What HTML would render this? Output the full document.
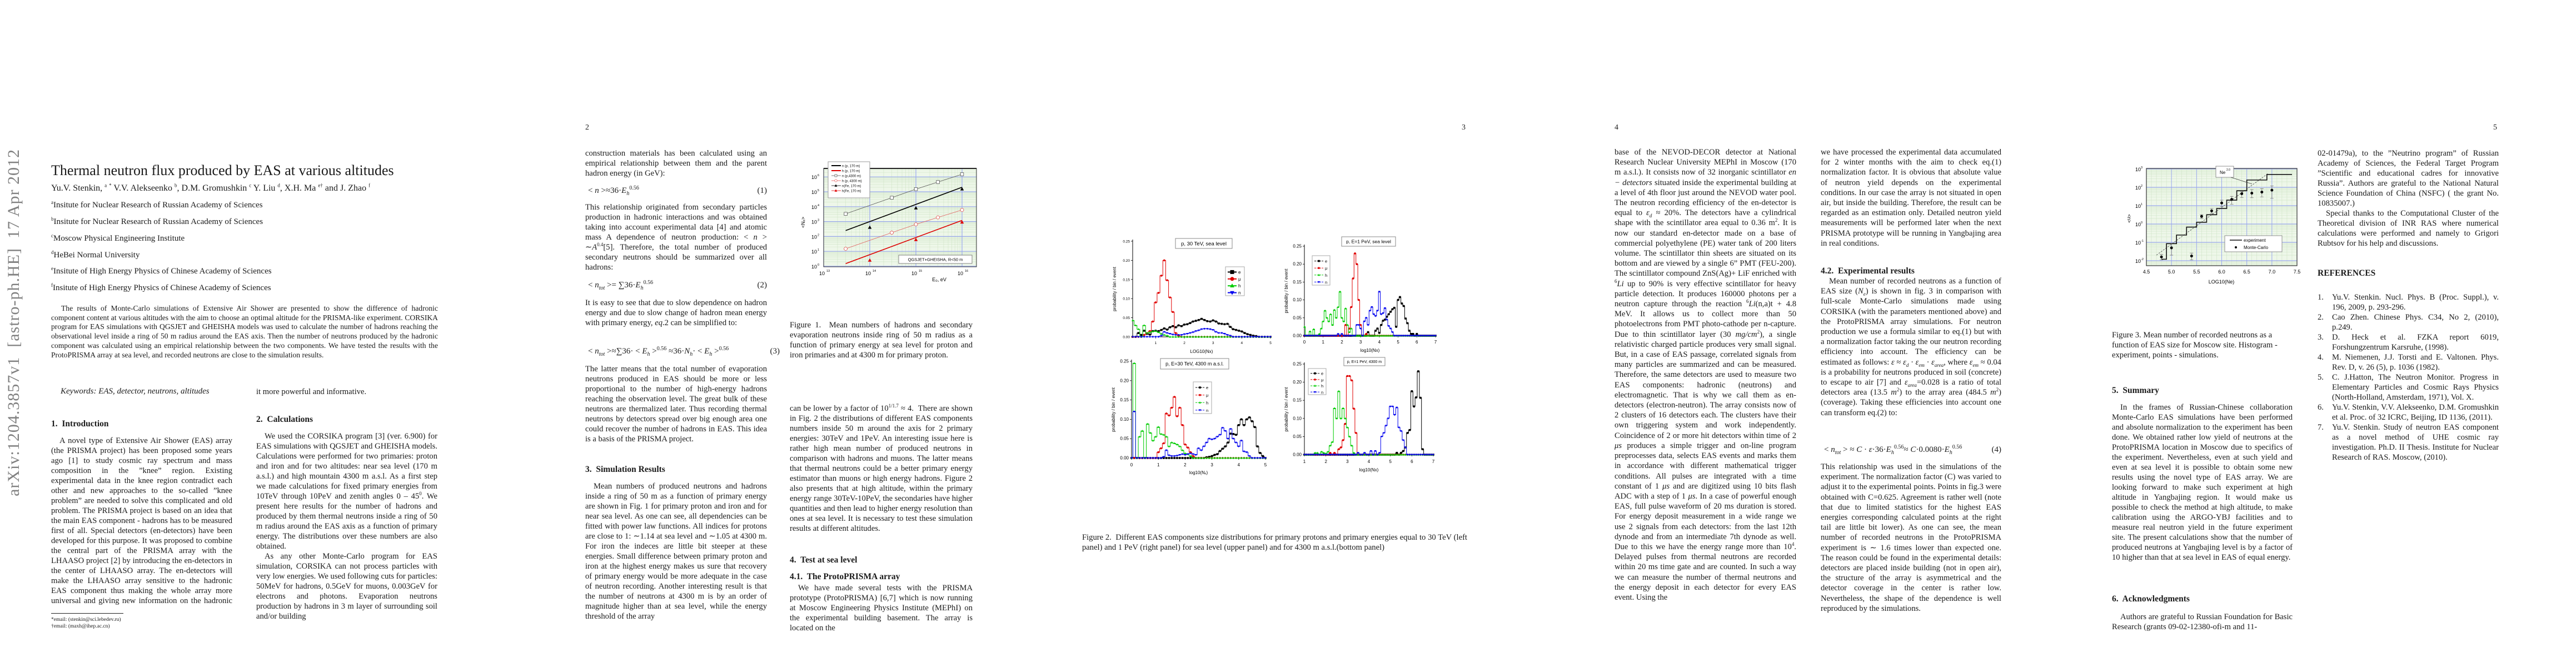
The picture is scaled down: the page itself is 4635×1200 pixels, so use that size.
<!DOCTYPE html>
<html lang="en">
<head>
<meta charset="utf-8">
<title>Thermal neutron flux produced by EAS at various altitudes</title>
<style>
html,body{margin:0;padding:0;background:#fff;}
body{width:4635px;height:1200px;position:relative;overflow:hidden;font-family:"Liberation Serif",serif;color:#1a1a1a;}
sup,sub{line-height:0;}
.a{position:absolute;}
.txt{font-size:14.6px;line-height:18px;text-align:justify;hyphens:auto;-webkit-hyphens:auto;}
.col{overflow:hidden;}
.p{margin:0;text-indent:15px;}
.ni{text-indent:0;}
.h{font-weight:bold;font-size:15.5px;line-height:18px;white-space:nowrap;}
.pn{font-size:14px;}
.eq{font-size:15px;line-height:18px;white-space:nowrap;}
.eqn{position:absolute;right:0;top:0;}
.ref{position:relative;padding-left:26px;}
.ref span.n{position:absolute;left:0;top:0;}
svg text{font-family:"Liberation Sans",sans-serif;}
</style>
</head>
<body>

<div class="a" style="left:8px;top:268px;writing-mode:vertical-rl;transform:rotate(180deg);font-size:30px;color:#808080;white-space:nowrap;letter-spacing:1px;">arXiv:1204.3857v1&nbsp;&nbsp;[astro-ph.HE]&nbsp;&nbsp;17 Apr 2012</div>

<!-- ================= PAGE 1 ================= -->
<div class="a" style="left:92px;top:292px;font-size:26px;white-space:nowrap;">Thermal neutron flux produced by EAS at various altitudes</div>
<div class="a" style="left:92px;top:330px;font-size:16px;white-space:nowrap;">Yu.V. Stenkin, <sup style="font-size:9px">a</sup> <sup style="font-size:9px">*</sup> V.V. Alekseenko <sup style="font-size:9px">b</sup>, D.M. Gromushkin <sup style="font-size:9px">c</sup> Y. Liu <sup style="font-size:9px">d</sup>, X.H. Ma <sup style="font-size:9px">e†</sup> and J. Zhao <sup style="font-size:9px">f</sup></div>
<div class="a" style="left:92px;top:361px;font-size:15px;white-space:nowrap;"><sup style="font-size:9px">a</sup>Insitute for Nuclear Research of Russian Academy of Sciences</div>
<div class="a" style="left:92px;top:391px;font-size:15px;white-space:nowrap;"><sup style="font-size:9px">b</sup>Insitute for Nuclear Research of Russian Academy of Sciences</div>
<div class="a" style="left:92px;top:421px;font-size:15px;white-space:nowrap;"><sup style="font-size:9px">c</sup>Moscow Physical Engineering Institute</div>
<div class="a" style="left:92px;top:451px;font-size:15px;white-space:nowrap;"><sup style="font-size:9px">d</sup>HeBei Normal University</div>
<div class="a" style="left:92px;top:480px;font-size:15px;white-space:nowrap;"><sup style="font-size:9px">e</sup>Insitute of High Energy Physics of Chinese Academy of Sciences</div>
<div class="a" style="left:92px;top:510px;font-size:15px;white-space:nowrap;"><sup style="font-size:9px">f</sup>Insitute of High Energy Physics of Chinese Academy of Sciences</div>

<div class="a" style="left:92px;top:547px;width:696px;font-size:13.6px;line-height:16.7px;text-align:justify;text-indent:18px;">The results of Monte-Carlo simulations of Extensive Air Shower are presented to show the difference of hadronic component content at various altitudes with the aim to choose an optimal altitude for the PRISMA-like experiment. CORSIKA program for EAS simulations with QGSJET and GHEISHA models was used to calculate the number of hadrons reaching the observational level inside a ring of 50 m radius around the EAS axis. Then the number of neutrons produced by the hadronic component was calculated using an empirical relationship between the two components. We have tested the results with the ProtoPRISMA array at sea level, and recorded neutrons are close to the simulation results.</div>

<div class="a" style="left:109px;top:696px;font-size:15px;font-style:italic;white-space:nowrap;">Keywords: EAS, detector, neutrons, altitudes</div>

<div class="a h" style="left:92px;top:754px;">1.&nbsp; Introduction</div>
<div class="a txt col" style="left:92px;top:784px;width:326px;height:306px;">
<p class="p">A novel type of Extensive Air Shower (EAS) array (the PRISMA project) has been proposed some years ago [1] to study cosmic ray spectrum and mass composition in the ”knee” region. Existing experimental data in the knee region contradict each other and new approaches to the so-called ”knee problem” are needed to solve this complicated and old problem. The PRISMA project is based on an idea that the main EAS component - hadrons has to be measured first of all. Special detectors (en-detectors) have been developed for this purpose. It was proposed to combine the central part of the PRISMA array with the LHAASO project [2] by introducing the en-detectors in the center of LHAASO array. The en-detectors will make the LHAASO array sensitive to the hadronic EAS component thus making the whole array more universal and giving new information on the hadronic component of the EAS,</p>
</div>
<div class="a" style="left:92px;top:1103px;width:130px;height:1px;background:#222;"></div>
<div class="a" style="left:92px;top:1109px;font-size:9.5px;line-height:12px;white-space:nowrap;">*email: (stenkin@sci.lebedev.ru)</div>
<div class="a" style="left:92px;top:1121px;font-size:9.5px;line-height:12px;white-space:nowrap;">†email: (maxh@ihep.ac.cn)</div>

<div class="a txt" style="left:461px;top:696px;width:326px;white-space:nowrap;">it more powerful and informative.</div>
<div class="a h" style="left:461px;top:746px;">2.&nbsp; Calculations</div>
<div class="a txt col" style="left:461px;top:776px;width:326px;height:360px;">
<p class="p">We used the CORSIKA program [3] (ver. 6.900) for EAS simulations with QGSJET and GHEISHA models. Calculations were performed for two primaries: proton and iron and for two altitudes: near sea level (170 m a.s.l.) and high mountain 4300 m a.s.l. As a first step we made calculations for fixed primary energies from 10TeV through 10PeV and zenith angles 0 – 45<sup style="font-size:9px">0</sup>. We present here results for the number of hadrons and produced by them thermal neutrons inside a ring of 50 m radius around the EAS axis as a function of primary energy. The distributions over these numbers are also obtained.</p>
<p class="p">As any other Monte-Carlo program for EAS simulation, CORSIKA can not process particles with very low energies. We used following cuts for particles: 50MeV for hadrons, 0.5GeV for muons, 0.003GeV for electrons and photons. Evaporation neutrons production by hadrons in 3 m layer of surrounding soil and/or building</p>
</div>

<!-- ================= PAGE 2 ================= -->
<div class="a pn" style="left:1053px;top:222px;">2</div>
<div class="a txt" style="left:1053px;top:267px;width:327px;">
<p class="p ni">construction materials has been calculated using an empirical relationship between them and the parent hadron energy (in GeV):</p></div>
<div class="a eq" style="left:1058px;top:334px;width:322px;">&lt; <i>n</i> &gt;≈36·<i>E</i><sub style="font-size:10px"><i>h</i></sub><sup style="font-size:10px">0.56</sup><span class="eqn">(1)</span></div>
<div class="a txt" style="left:1053px;top:364px;width:327px;">
<p class="p ni">This relationship originated from secondary particles production in hadronic interactions and was obtained taking into account experimental data [4] and atomic mass A dependence of neutron production: &lt; <i>n</i> &gt; ∼<i>A</i><sup style="font-size:9px">0.4</sup>[5]. Therefore, the total number of produced secondary neutrons should be summarized over all hadrons:</p></div>
<div class="a eq" style="left:1058px;top:504px;width:322px;">&lt; <i>n<sub style="font-size:10px">tot</sub></i> &gt;= ∑36·<i>E</i><sub style="font-size:10px"><i>h</i></sub><sup style="font-size:10px">0.56</sup><span class="eqn">(2)</span></div>
<div class="a txt" style="left:1053px;top:536px;width:327px;">
<p class="p ni">It is easy to see that due to slow dependence on hadron energy and due to slow change of hadron mean energy with primary energy, <i>eq</i>.2 can be simplified to:</p></div>
<div class="a eq" style="left:1058px;top:623px;width:345px;">&lt; <i>n<sub style="font-size:10px">tot</sub></i> &gt;≈∑36· &lt; <i>E<sub style="font-size:10px">h</sub></i> &gt;<sup style="font-size:10px">0.56</sup> ≈36·<i>N<sub style="font-size:10px">h</sub></i>· &lt; <i>E<sub style="font-size:10px">h</sub></i> &gt;<sup style="font-size:10px">0.56</sup><span class="eqn">(3)</span></div>
<div class="a txt" style="left:1053px;top:655px;width:327px;">
<p class="p ni">The latter means that the total number of evaporation neutrons produced in EAS should be more or less proportional to the number of high-energy hadrons reaching the observation level. The great bulk of these neutrons are thermalized later. Thus recording thermal neutrons by detectors spread over big enough area one could recover the number of hadrons in EAS. This idea is a basis of the PRISMA project.</p></div>
<div class="a h" style="left:1053px;top:836px;">3.&nbsp; Simulation Results</div>
<div class="a txt col" style="left:1053px;top:866px;width:327px;height:270px;">
<p class="p">Mean numbers of produced neutrons and hadrons inside a ring of 50 m as a function of primary energy are shown in Fig. 1 for primary proton and iron and for near sea level. As one can see, all dependencies can be fitted with power law functions. All indices for protons are close to 1: ∼1.14 at sea level and ∼1.05 at 4300 m. For iron the indeces are little bit steeper at these energies. Small difference between primary proton and iron at the highest energy makes us sure that recovery of primary energy would be more adequate in the case of neutron recording. Another interesting result is that the number of neutrons at 4300 m is by an order of magnitude higher than at sea level, while the energy threshold of the array</p></div>

<div class="a txt" style="left:1421px;top:576px;width:329px;">
<p class="p ni">Figure 1.&nbsp; Mean numbers of hadrons and secondary evaporation neutrons inside ring of 50 m radius as a function of primary energy at sea level for proton and iron primaries and at 4300 m for primary proton.</p></div>
<div class="a txt" style="left:1421px;top:726px;width:329px;">
<p class="p ni">can be lower by a factor of 10<sup style="font-size:9px">1/1.7</sup> ≈ 4.&nbsp; There are shown in Fig. 2 the distributions of different EAS components numbers inside 50 m around the axis for 2 primary energies: 30TeV and 1PeV. An interesting issue here is rather high mean number of produced neutrons in comparison with hadrons and muons. The latter means that thermal neutrons could be a better primary energy estimator than muons or high energy hadrons. Figure 2 also presents that at high altitude, within the primary energy range 30TeV-10PeV, the secondaries have higher quantities and then lead to higher energy resolution than ones at sea level. It is necessary to test these simulation results at different altitudes.</p></div>
<div class="a h" style="left:1421px;top:999px;">4.&nbsp; Test at sea level</div>
<div class="a h" style="left:1421px;top:1029px;">4.1.&nbsp; The ProtoPRISMA array</div>
<div class="a txt col" style="left:1421px;top:1049px;width:329px;height:90px;">
<p class="p">We have made several tests with the PRISMA prototype (ProtoPRISMA) [6,7] which is now running at Moscow Engineering Physics Institute (MEPhI) on the experimental building basement. The array is located on the</p></div>

<!-- ================= PAGE 3 ================= -->
<div class="a pn" style="left:2630px;top:222px;">3</div>
<div class="a txt" style="left:1947px;top:958px;width:693px;">
<p class="p ni">Figure 2.&nbsp; Different EAS components size distributions for primary protons and primary energies equal to 30 TeV (left panel) and 1 PeV (right panel) for sea level (upper panel) and for 4300 m a.s.l.(bottom panel)</p></div>

<!-- ================= PAGE 4 ================= -->
<div class="a pn" style="left:2905px;top:222px;">4</div>
<div class="a txt col" style="left:2905px;top:265px;width:327px;height:873px;line-height:18.2px;">
<p class="p ni">base of the NEVOD-DECOR detector at National Research Nuclear University MEPhI in Moscow (170 m a.s.l.). It consists now of 32 inorganic scintillator <i>en − detectors</i> situated inside the experimental building at a level of 4th floor just around the NEVOD water pool. The neutron recording efficiency of the en-detector is equal to <i>ε<sub style="font-size:9px">d</sub></i> ≈ 20%. The detectors have a cylindrical shape with the scintillator area equal to 0.36 m<sup style="font-size:9px">2</sup>. It is now our standard en-detector made on a base of commercial polyethylene (PE) water tank of 200 liters volume. The scintillator thin sheets are situated on its bottom and are viewed by a single 6” PMT (FEU-200). The scintillator compound ZnS(Ag)+ LiF enriched with <sup style="font-size:9px">6</sup><i>Li</i> up to 90% is very effective scintillator for heavy particle detection. It produces 160000 photons per a neutron capture through the reaction <sup style="font-size:9px">6</sup><i>Li</i>(n,a)t + 4.8 MeV. It allows us to collect more than 50 photoelectrons from PMT photo-cathode per n-capture. Due to thin scintillator layer (30 <i>mg/cm</i><sup style="font-size:9px">2</sup>), a single relativistic charged particle produces very small signal. But, in a case of EAS passage, correlated signals from many particles are summarized and can be measured. Therefore, the same detectors are used to measure two EAS components: hadronic (neutrons) and electromagnetic. That is why we call them as en-detectors (electron-neutron). The array consists now of 2 clusters of 16 detectors each. The clusters have their own triggering system and work independently. Coincidence of 2 or more hit detectors within time of 2 <i>μs</i> produces a simple trigger and on-line program preprocesses data, selects EAS events and marks them in accordance with different mathematical trigger conditions. All pulses are integrated with a time constant of 1 <i>μs</i> and are digitized using 10 bits flash ADC with a step of 1 <i>μs</i>. In a case of powerful enough EAS, full pulse waveform of 20 ms duration is stored. For energy deposit measurement in a wide range we use 2 signals from each detectors: from the last 12th dynode and from an intermediate 7th dynode as well. Due to this we have the energy range more than 10<sup style="font-size:9px">4</sup>. Delayed pulses from thermal neutrons are recorded within 20 ms time gate and are counted. In such a way we can measure the number of thermal neutrons and the energy deposit in each detector for every EAS event. Using the</p></div>

<div class="a txt" style="left:3276px;top:265px;width:325px;line-height:18.2px;">
<p class="p ni">we have processed the experimental data accumulated for 2 winter months with the aim to check eq.(1) normalization factor. It is obvious that absolute value of neutron yield depends on the experimental conditions. In our case the array is not situated in open air, but inside the building. Therefore, the result can be regarded as an estimation only. Detailed neutron yield measurements will be performed later when the next PRISMA prototype will be running in Yangbajing area in real conditions.</p></div>
<div class="a h" style="left:3276px;top:479px;">4.2.&nbsp; Experimental results</div>
<div class="a txt" style="left:3276px;top:497px;width:325px;line-height:18.2px;">
<p class="p">Mean number of recorded neutrons as a function of EAS size (<i>N<sub style="font-size:9px">e</sub></i>) is shown in fig. 3 in comparison with full-scale Monte-Carlo simulations made using CORSIKA (with the parameters mentioned above) and the ProtoPRISMA array simulations. For neutron production we use a formula similar to eq.(1) but with a normalization factor taking the our neutron recording efficiency into account. The efficiency can be estimated as follows: <i>ε</i> ≈ <i>ε<sub style="font-size:9px">d</sub></i> · <i>ε<sub style="font-size:9px">em</sub></i> · <i>ε<sub style="font-size:9px">area</sub></i>, where <i>ε<sub style="font-size:9px">em</sub></i> ≈ 0.04 is a probability for neutrons produced in soil (concrete) to escape to air [7] and <i>ε<sub style="font-size:9px">area</sub></i>=0.028 is a ratio of total detectors area (13.5 <i>m</i><sup style="font-size:9px">2</sup>) to the array area (484.5 <i>m</i><sup style="font-size:9px">2</sup>)(coverage). Taking these efficiencies into account one can transform eq.(2) to:</p></div>
<div class="a eq" style="left:3282px;top:800px;width:319px;">&lt; <i>n<sub style="font-size:10px">tot</sub></i> &gt; ≈ <i>C</i> · <i>ε</i>·36·<i>E</i><sub style="font-size:10px"><i>h</i></sub><sup style="font-size:10px">0.56</sup>≈ <i>C</i>·0.0080·<i>E</i><sub style="font-size:10px"><i>h</i></sub><sup style="font-size:10px">0.56</sup><span class="eqn">(4)</span></div>
<div class="a txt col" style="left:3276px;top:831px;width:325px;height:307px;line-height:18.2px;">
<p class="p ni">This relationship was used in the simulations of the experiment. The normalization factor (C) was varied to adjust it to the experimental points. Points in fig.3 were obtained with C=0.625. Agreement is rather well (note that due to limited statistics for the highest EAS energies corresponding calculated points at the right tail are little bit lower). As one can see, the mean number of recorded neutrons in the ProtoPRISMA experiment is ∼ 1.6 times lower than expected one. The reason could be found in the experimental details: detectors are placed inside building (not in open air), the structure of the array is asymmetrical and the detector coverage in the center is rather low. Nevertheless, the shape of the dependence is well reproduced by the simulations.</p></div>

<!-- ================= PAGE 5 ================= -->
<div class="a pn" style="left:4486px;top:222px;">5</div>
<div class="a txt" style="left:3800px;top:594px;width:325px;">
<p class="p ni" style="text-align:left">Figure 3. Mean number of recorded neutrons as a function of EAS size for Moscow site. Histogram - experiment, points - simulations.</p></div>
<div class="a h" style="left:3800px;top:694px;">5.&nbsp; Summary</div>
<div class="a txt" style="left:3800px;top:724px;width:325px;">
<p class="p">In the frames of Russian-Chinese collaboration Monte-Carlo EAS simulations have been performed and absolute normalization to the experiment has been done. We obtained rather low yield of neutrons at the ProtoPRISMA location in Moscow due to specifics of the experiment. Nevertheless, even at such yield and even at sea level it is possible to obtain some new results using the novel type of EAS array. We are looking forward to make such experiment at high altitude in Yangbajing region. It would make us possible to check the method at high altitude, to make calibration using the ARGO-YBJ facilities and to measure real neutron yield in the future experiment site. The present calculations show that the number of produced neutrons at Yangbajing level is by a factor of 10 higher than that at sea level in EAS of equal energy.</p></div>
<div class="a h" style="left:3800px;top:1069px;">6.&nbsp; Acknowledgments</div>
<div class="a txt" style="left:3800px;top:1101px;width:325px;">
<p class="p">Authors are grateful to Russian Foundation for Basic Research (grants 09-02-12380-ofi-m and 11-</p></div>

<div class="a txt" style="left:4170px;top:267px;width:326px;">
<p class="p ni">02-01479a), to the ”Neutrino program” of Russian Academy of Sciences, the Federal Target Program ”Scientific and educational cadres for innovative Russia”. Authors are grateful to the National Natural Science Foundation of China (NSFC) ( the grant No. 10835007.)</p>
<p class="p">Special thanks to the Computational Cluster of the Theoretical division of INR RAS where numerical calculations were performed and namely to Grigori Rubtsov for his help and discussions.</p></div>
<div class="a h" style="left:4170px;top:483px;">REFERENCES</div>
<div class="a txt" style="left:4170px;top:526px;width:326px;">
<div class="ref"><span class="n">1.</span>Yu.V. Stenkin. Nucl. Phys. B (Proc. Suppl.), v. 196, 2009, p. 293-296.</div>
<div class="ref"><span class="n">2.</span>Cao Zhen. Chinese Phys. C34, No 2, (2010), p.249.</div>
<div class="ref"><span class="n">3.</span>D. Heck et al. FZKA report 6019, Forshungzentrum Karsruhe, (1998).</div>
<div class="ref"><span class="n">4.</span>M. Niemenen, J.J. Torsti and E. Valtonen. Phys. Rev. D, v. 26 (5), p. 1036 (1982).</div>
<div class="ref"><span class="n">5.</span>C. J.Hatton, The Neutron Monitor. Progress in Elementary Particles and Cosmic Rays Physics (North-Holland, Amsterdam, 1971), Vol. X.</div>
<div class="ref"><span class="n">6.</span>Yu.V. Stenkin, V.V. Alekseenko, D.M. Gromushkin et al. Proc. of 32 ICRC, Beijing, ID 1136, (2011).</div>
<div class="ref"><span class="n">7.</span>Yu.V. Stenkin. Study of neutron EAS component as a novel method of UHE cosmic ray investigation. Ph.D. II Thesis. Institute for Nuclear Research of RAS. Moscow, (2010).</div>
</div>

<svg id="charts" class="a" style="left:0;top:0;" width="4635" height="1200" xmlns="http://www.w3.org/2000/svg"></svg>

<script>
// ---------- Figure 2 data (bin width 0.1 in log10(Nx); start = first bin centre) ----------
const fig2YTicks=[0,0.05,0.10,0.15,0.20,0.25];
const tlXTicks=[1,2,3,4,5];
const trXTicks=[0,1,2,3,4,5,6,7];
const blXTicks=[0,1,2,3,4,5];
const brXTicks=[1,2,3,4,5,6,7];

const tlEStart=0.4;
const tlE=[0.01,0.005,0.016,0.008,0.006,0.015,0.016,0.015,0.018,0.022,0.019,0.025,0.028,0.025,0.03,0.028,0.032,0.033,0.036,0.04,0.042,0.044,0.047,0.044,0.041,0.04,0.043,0.04,0.035,0.034,0.033,0.034,0.026,0.02,0.018,0.016,0.014,0.01,0.007,0.005,0.003,0.002];
const tlMuStart=0.6;
const tlMu=[0.005,0.01,0.015,0.04,0.09,0.115,0.16,0.2,0.148,0.103,0.065,0.01,0.003];
const tlHStart=0.2;
const tlH=[0.043,0.03,0.02,0,0.03,0.01,0.012,0.014,0.015,0.012,0.008,0.005,0.003];
const tlNStart=1.2;
const tlN=[0.003,0.013,0.01,0.008,0.006,0.005,0.005,0.005,0.007,0.008,0.01,0.012,0.015,0.017,0.02,0.021,0.021,0.02,0.018,0.013,0.01,0.01,0.008,0.005,0.003];

const trEStart=3.4;
const trE=[0.01,0,0,0,0.014,0.02,0.008,0.03,0.042,0.045,0.053,0.06,0.067,0.074,0.078,0.025,0.1,0.108,0.09,0.083,0.048,0.035,0.014,0.005,0.005,0,0.005];
const trMuStart=2.2;
const trMu=[0.03,0,0.02,0.08,0.16,0.23,0.2,0.1,0.03,0,0,0.005];
const trHStart=0;
const trH=[0.025,0,0,0.012,0,0.018,0,0,0.005,0.02,0.04,0.07,0.05,0.04,0.06,0.03,0.072,0.05,0.08,0.123,0.05,0.04,0.076,0.03,0.01,0.02];
const trNStart=1.8;
const trN=[0.005,0,0.005,0,0,0,0,0,0,0,0.03,0.03,0.02,0,0.04,0.05,0.03,0.07,0.08,0.06,0.055,0.07,0.123,0.06,0.063,0.077,0.045,0.027,0.02,0.01];

const blEStart=2.8;
const blE=[0.002,0.003,0.005,0.008,0.01,0.018,0.024,0.03,0.04,0.063,0.062,0.06,0.085,0.1,0.085,0.1,0.105,0.095,0.08,0.03,0.013,0.005];
const blMuStart=1.0;
const blMu=[0.015,0.025,0.038,0.115,0.11,0.13,0.158,0.108,0.13,0.085,0.035,0.027,0.015,0.005];
const blHStart=0.1;
const blH=[0.245,0,0.055,0.07,0,0.088,0.065,0.045,0.055,0.08,0.062,0.06,0.055,0.03,0.04,0.038,0.035,0.03,0.02,0.012,0.01,0.005];
const blNStart=0.1;
const blN=[0.12,0,0,0,0,0,0,0,0,0,0,0.003,0.02,0.007,0.005,0.005,0.006,0.008,0.01,0.008,0.01,0.012,0.01,0.008,0.025,0.02,0.03,0.04,0.05,0.048,0.05,0.055,0.06,0.078,0.07,0.05,0.075,0.05,0.04,0.03,0.045,0.017,0.015,0.005];

const brEStart=5.3;
const brE=[0.005,0,0.005,0.01,0.02,0.06,0.068,0.175,0.133,0.158,0.23,0.157,0.015];
const brMuStart=2.2;
const brMu=[0.005,0,0.005,0,0.015,0.02,0.04,0.085,0.217,0.217,0.205,0.127,0.06];
const brHStart=1.5;
const brH=[0.005,0.005,0,0.008,0.005,0.003,0.008,0.025,0.035,0.128,0.1,0.175,0.1,0.128,0.1,0.075,0.05,0.025,0.005];
const brNStart=3.5;
const brN=[0.005,0,0,0.005,0,0,0.01,0,0.01,0,0.005,0.05,0.06,0.08,0.1,0.133,0.133,0.11,0.13,0.075,0.065,0.04,0.02];

// ---------- Figure 1 data ----------
const f1XTicks=[13,14,15,16];
const f1YTicks=[0,1,2,3,4,5,6];
const f1LineX=[3e13,1e16];
const f1NpLineY=[250,2e5];
const f1HpLineY=[1.5,1200];
const f1P43X=[3e13,3e14,1e15,3e15,1e16];
const f1N43Y=[3300,4e4,1.5e5,4.5e5,1.5e6];
const f1H43Y=[15,180,650,1900,6000];
const f1FeX=[1e14,1e15,1e16];
const f1NFeY=[400,8000,1.5e5];
const f1HFeY=[2.5,60,900];

// ---------- Figure 3 data ----------
const f3XTicks=[4.5,5.0,5.5,6.0,6.5,7.0,7.5];
const f3YTicks=[-2,-1,0,1,2,3];
const f3ExpEdges=[4.8,4.9,5.1,5.3,5.5,5.7,5.9,6.1,6.3,6.5,6.9,7.4];
const f3ExpVals=[0.012,0.085,0.25,0.68,1.25,3.2,7,20,65,250,500];
const f3McX=[4.8,5.0,5.4,5.6,5.8,6.0,6.2,6.4,6.6,6.8,7.0];
const f3McY=[0.016,0.05,0.018,2.6,5.2,14,22,45,48,55,70];
const f3McErrLo=[0.011,0.02,0.011,2.0,3.8,9,12,28,27,30,25];
const f3McErrHi=[0.022,0.09,0.026,3.2,7,20,32,60,75,85,120];
const f3FitX=[4.7,6.92];
const f3FitY=[0.02,560];

const NS='http://www.w3.org/2000/svg';
const svg=document.getElementById('charts');
function el(tag,attrs,parent){const e=document.createElementNS(NS,tag);for(const k in attrs)e.setAttribute(k,attrs[k]);(parent||svg).appendChild(e);return e;}
function lin(d0,d1,r0,r1){return v=>r0+(v-d0)/(d1-d0)*(r1-r0);}
function r1(v){return Math.round(v*10)/10;}

function marker(g,kind,cx,cy,s,color,name){
  let m;
  if(kind==='sq'){m=el('rect',{x:cx-s,y:cy-s,width:2*s,height:2*s,fill:color},g);}
  else if(kind==='ci'){m=el('circle',{cx:cx,cy:cy,r:s,fill:color},g);}
  else if(kind==='tu'){m=el('polygon',{points:`${cx},${cy-s*1.2} ${cx-s*1.1},${cy+s*0.8} ${cx+s*1.1},${cy+s*0.8}`,fill:color},g);}
  else {m=el('polygon',{points:`${cx},${cy+s*1.2} ${cx-s*1.1},${cy-s*0.8} ${cx+s*1.1},${cy-s*0.8}`,fill:color},g);}
  
  
  return m;
}

// ================= Figure 2 =================
const fig2Panels=[
 {id:'tl',box:[2038,434,2286,606],xd:[0.2,5],xt:tlXTicks,title:'p, 30 TeV, sea level',tb:[2115,429,102,18],tfs:9.5,lg:[2205,480,34,52],lfs:8,big:true,xl:'LOG10(Nx)',xly:632,tly:616,
  ser:[{k:'e',s:tlEStart,v:tlE},{k:'mu',s:tlMuStart,v:tlMu},{k:'h',s:tlHStart,v:tlH},{k:'n',s:tlNStart,v:tlN}]},
 {id:'tr',box:[2347,443,2583,604],xd:[0,7],xt:trXTicks,title:'p, E=1 PeV, sea level',tb:[2414,426,97,17],tfs:8.5,lg:[2361,460,32,53],lfs:7.5,big:false,xl:'log10(Nx)',xly:630,tly:615,
  ser:[{k:'e',s:trEStart,v:trE},{k:'mu',s:trMuStart,v:trMu},{k:'h',s:trHStart,v:trH},{k:'n',s:trNStart,v:trN}]},
 {id:'bl',box:[2036,650,2277,824],xd:[0,5],xt:blXTicks,title:'p, E=30 TeV, 4300 m a.s.l.',tb:[2088,645,123,19],tfs:9,lg:[2147,687,33,57],lfs:7.5,big:false,xl:'log10(N\u2093)',xly:850,tly:836,
  ser:[{k:'e',s:blEStart,v:blE},{k:'mu',s:blMuStart,v:blMu},{k:'h',s:blHStart,v:blH},{k:'n',s:blNStart,v:blN}]},
 {id:'br',box:[2347,655,2579,818],xd:[1,7],xt:brXTicks,title:'p, E=1 PeV, 4300 m',tb:[2418,643,74,15],tfs:7,lg:[2354,663,32,47],lfs:7.5,big:false,xl:'log10(Nx)',xly:845,tly:830,
  ser:[{k:'e',s:brEStart,v:brE},{k:'mu',s:brMuStart,v:brMu},{k:'h',s:brHStart,v:brH},{k:'n',s:brNStart,v:brN}]}
];
const sty={e:{c:'#000',m:'sq',lab:'e'},mu:{c:'#e00000',m:'ci',lab:'\u03bc'},h:{c:'#00cc00',m:'tu',lab:'h'},n:{c:'#0000ee',m:'td',lab:'n'}};

fig2Panels.forEach(p=>{
  const g=el('g',{});
  
  
  const X=lin(p.xd[0],p.xd[1],p.box[0],p.box[2]);
  const Y=lin(0,0.25,p.box[3],p.box[1]);
  const ya=el('line',{x1:p.box[0],y1:p.box[1]-3,x2:p.box[0],y2:p.box[3],stroke:'#000','stroke-width':1},g);
  
  
  const xa=el('line',{x1:p.box[0],y1:p.box[3],x2:p.box[2],y2:p.box[3],stroke:'#000','stroke-width':1},g);
  
  
  fig2YTicks.forEach(v=>{
    const t=el('line',{x1:p.box[0]-3,y1:Y(v),x2:p.box[0],y2:Y(v),stroke:'#000','stroke-width':0.8},g);
    
    
    const lb=el('text',{x:p.box[0]-5,y:Y(v)+2.5,'font-size':p.big?6.5:8,'text-anchor':'end',fill:'#000'},g);
    
    
    lb.textContent=v.toFixed(2);
  });
  p.xt.forEach(v=>{
    const t=el('line',{x1:X(v),y1:p.box[3],x2:X(v),y2:p.box[3]+3,stroke:'#000','stroke-width':0.8},g);
    
    
    const lb=el('text',{x:X(v),y:p.tly+3,'font-size':p.big?6.5:8,'text-anchor':'middle',fill:'#000'},g);
    
    
    lb.textContent=v;
  });
  const xl=el('text',{x:(p.box[0]+p.box[2])/2,y:p.xly+3,'font-size':8,'text-anchor':'middle',fill:'#000'},g);
  
  
  xl.textContent=p.xl;
  const yc=(p.box[1]+p.box[3])/2, yx=p.box[0]-30;
  const yl=el('text',{x:yx,y:yc,'font-size':8,'text-anchor':'middle',fill:'#000',transform:`rotate(-90 ${yx} ${yc})`},g);
  
  
  yl.textContent='probability / bin / event';
  p.ser.forEach(s=>{
    const st=sty[s.k];
    const sg=el('g',{},g);
    
    
    const cs=[],vs=[];
    for(let c=r1(s.s-0.1);c>=p.xd[0]-0.001;c=r1(c-0.1)){cs.unshift(c);vs.unshift(0);}
    s.v.forEach((v,i)=>{cs.push(r1(s.s+i*0.1));vs.push(v);});
    for(let c=r1(s.s+s.v.length*0.1);c<=p.xd[1]+0.001;c=r1(c+0.1)){cs.push(c);vs.push(0);}
    let d='';
    cs.forEach((c,i)=>{
      const xa0=Math.max(p.xd[0],c-0.05), xa1=Math.min(p.xd[1],c+0.05);
      d+=(i===0?'M':'L')+X(xa0).toFixed(1)+','+Y(vs[i]).toFixed(1)+'L'+X(xa1).toFixed(1)+','+Y(vs[i]).toFixed(1);
    });
    const path=el('path',{d:d,fill:'none',stroke:st.c,'stroke-width':1},sg);
    
    
    cs.forEach((c,i)=>{marker(sg,st.m,X(c),Y(vs[i]),1.8,st.c,'point-'+s.k);});
  });
  const tb=el('rect',{x:p.tb[0],y:p.tb[1],width:p.tb[2],height:p.tb[3],fill:'#fff',stroke:'#888','stroke-width':1},g);
  
  
  const tt=el('text',{x:p.tb[0]+p.tb[2]/2,y:p.tb[1]+p.tb[3]/2+p.tfs*0.36,'font-size':p.tfs,'text-anchor':'middle',fill:'#000'},g);
  
  
  tt.textContent=p.title;
  const lg=el('rect',{x:p.lg[0],y:p.lg[1],width:p.lg[2],height:p.lg[3],fill:'#fff',stroke:'#aaa','stroke-width':1},g);
  
  
  ['e','mu','h','n'].forEach((k,i)=>{
    const st=sty[k];
    const yy=p.lg[1]+p.lg[3]*(i+0.6)/4.2+2;
    const le=el('line',{x1:p.lg[0]+4,y1:yy,x2:p.lg[0]+20,y2:yy,stroke:st.c,'stroke-width':p.big?2:1,'stroke-dasharray':p.big?'':'3,1.5'},g);
    
    
    marker(g,st.m,p.lg[0]+12,yy,p.big?3.5:1.8,st.c,'legend-entry-marker-'+k);
    const lt=el('text',{x:p.lg[0]+23,y:yy+3,'font-size':p.lfs,fill:'#000'},g);
    
    
    lt.textContent=st.lab;
  });
});

// ================= Figure 1 =================
(function(){
  const box=[1482,303,1757,480];
  const X=v=>1482+(Math.log10(v)-13)*83;
  const XL=l=>1482+(l-13)*83;
  const Y=v=>479-Math.log10(v)*26.8;
  const YL=l=>479-l*26.8;
  const g=el('g',{});
  
  
  const bg=el('rect',{x:box[0],y:box[1],width:box[2]-box[0],height:box[3]-box[1],fill:'#eef7e9'},g);
  
  
  for(let d=13;d<16.4;d++){for(let k=2;k<10;k++){const xv=XL(d+Math.log10(k));if(xv<box[2]){const m=el('line',{x1:xv,y1:box[1],x2:xv,y2:box[3],stroke:'#cfe4c6','stroke-width':0.6},g);}}}
  for(let d=0;d<6.6;d++){for(let k=2;k<10;k++){const yv=YL(d+Math.log10(k));if(yv>box[1]){const m=el('line',{x1:box[0],y1:yv,x2:box[2],y2:yv,stroke:'#cfe4c6','stroke-width':0.6},g);}}}
  f1XTicks.forEach(l=>{
    const gl=el('line',{x1:XL(l),y1:box[1],x2:XL(l),y2:box[3],stroke:'#9aa8ee','stroke-width':1.2},g);
    
    
    const t=el('text',{x:XL(l)-3,y:495,'font-size':9,'text-anchor':'middle',fill:'#000'},g);
    
    
    t.textContent='10';
    const sp=el('text',{x:XL(l)+5,y:489,'font-size':5.5,fill:'#000'},g);
    
    
    sp.textContent=l;
  });
  f1YTicks.forEach(l=>{
    const gl=el('line',{x1:box[0],y1:YL(l),x2:box[2],y2:YL(l),stroke:'#9aa8ee','stroke-width':1.2},g);
    
    
    const t=el('text',{x:box[0]-12,y:YL(l)+4,'font-size':9,'text-anchor':'end',fill:'#000'},g);
    
    
    t.textContent='10';
    const sp=el('text',{x:box[0]-11,y:YL(l)-1,'font-size':5.5,fill:'#000'},g);
    
    
    sp.textContent=l;
  });
  const fr=el('rect',{x:box[0],y:box[1],width:box[2]-box[0],height:box[3]-box[1],fill:'none',stroke:'#333','stroke-width':1},g);
  
  
  const topax=el('line',{x1:box[0],y1:box[1],x2:box[2],y2:box[1],stroke:'#222','stroke-width':2},g);
  
  
  const l1=el('line',{x1:X(f1LineX[0]),y1:Y(f1NpLineY[0]),x2:X(f1LineX[1]),y2:Y(f1NpLineY[1]),stroke:'#000','stroke-width':1.6},g);
  
  
  const l2=el('line',{x1:X(f1LineX[0]),y1:Y(f1HpLineY[0]),x2:X(f1LineX[1]),y2:Y(f1HpLineY[1]),stroke:'#dd0000','stroke-width':1.6},g);
  
  
  let d1='',d2='';
  f1P43X.forEach((x,i)=>{d1+=(i?'L':'M')+X(x)+','+Y(f1N43Y[i]);d2+=(i?'L':'M')+X(x)+','+Y(f1H43Y[i]);});
  const p1=el('path',{d:d1,fill:'none',stroke:'#555','stroke-width':0.8},g);
  
  
  const p2=el('path',{d:d2,fill:'none',stroke:'#e06060','stroke-width':0.8},g);
  
  
  f1P43X.forEach((x,i)=>{
    const s=el('rect',{x:X(x)-2.8,y:Y(f1N43Y[i])-2.8,width:5.6,height:5.6,fill:'#fff',stroke:'#555','stroke-width':0.8},g);
    
    
    const c=el('circle',{cx:X(x),cy:Y(f1H43Y[i]),r:3,fill:'#fff',stroke:'#e05050','stroke-width':0.8},g);
    
    
  });
  f1FeX.forEach((x,i)=>{
    marker(g,'tu',X(x),Y(f1NFeY[i]),3,'#000','point-n-fe-170m');
    marker(g,'tu',X(x),Y(f1HFeY[i]),3,'#e00000','point-h-fe-170m');
  });
  const lg=el('rect',{x:1490,y:291,width:75,height:65,fill:'#fff',stroke:'#999','stroke-width':1},g);
  
  
  const labs=['n (p, 170 m)','h (p, 170 m)','n (p,4300 m)','h (p, 4300 m)','n(Fe, 170 m)','h(Fe, 170 m)'];
  const cols=['#000','#dd0000','#555','#e05050','#000','#e00000'];
  labs.forEach((t,i)=>{
    const yy=298+i*9;
    const ll=el('line',{x1:1496,y1:yy,x2:1513,y2:yy,stroke:cols[i],'stroke-width':i<2?2:0.8},g);
    
    
    if(i===2){const s=el('rect',{x:1502,y:yy-2,width:4,height:4,fill:'#fff',stroke:'#555','stroke-width':0.7},g);}
    if(i===3){const c=el('circle',{cx:1504,cy:yy,r:2.2,fill:'#fff',stroke:'#e05050','stroke-width':0.7},g);}
    if(i>=4){marker(g,'tu',1504,yy,2.2,cols[i],'legend-entry-marker');}
    const tx=el('text',{x:1515,y:yy+2.5,'font-size':6,fill:'#000'},g);
    
    
    tx.textContent=t;
  });
  const nb=el('rect',{x:1617,y:459,width:132,height:15,fill:'#fff',stroke:'#666','stroke-width':0.8},g);
  
  
  const nt=el('text',{x:1683,y:469.5,'font-size':7.5,'text-anchor':'middle',fill:'#000'},g);
  
  
  nt.textContent='QGSJET+GHEISHA, R<50 m';
  const yt=el('text',{x:1448,y:400,'font-size':9,'text-anchor':'middle',fill:'#000',transform:'rotate(-90 1448 400)'},g);
  
  
  yt.textContent='<N\u2093>';
  const xt=el('text',{x:1690,y:506,'font-size':9,'text-anchor':'middle',fill:'#000'},g);
  
  
  xt.textContent='E\u2080, eV';
})();

// ================= Figure 3 =================
(function(){
  const box=[3862,303,4133,478];
  const X=lin(4.5,7.5,3862,4133);
  const YL=l=>469-(l+2)*33;
  const Y=v=>YL(Math.log10(v));
  const g=el('g',{});
  
  
  const bg=el('rect',{x:box[0],y:box[1],width:box[2]-box[0],height:box[3]-box[1],fill:'#eef7e9'},g);
  
  
  for(let v=4.6;v<7.5;v+=0.1){const m=el('line',{x1:X(v),y1:box[1],x2:X(v),y2:box[3],stroke:'#cfe4c6','stroke-width':0.6},g);}
  for(let d=-3;d<3;d++){for(let k=2;k<10;k++){const yv=YL(d+Math.log10(k));if(yv>box[1]&&yv<box[3]){const m=el('line',{x1:box[0],y1:yv,x2:box[2],y2:yv,stroke:'#cfe4c6','stroke-width':0.6},g);}}}
  f3XTicks.forEach(v=>{
    const gl=el('line',{x1:X(v),y1:box[1],x2:X(v),y2:box[3],stroke:'#9aa8ee','stroke-width':1},g);
    
    
    const t=el('text',{x:X(v),y:492,'font-size':9,'text-anchor':'middle',fill:'#000'},g);
    
    
    t.textContent=v.toFixed(1);
  });
  f3YTicks.forEach(l=>{
    const gl=el('line',{x1:box[0],y1:YL(l),x2:box[2],y2:YL(l),stroke:'#9aa8ee','stroke-width':1.3},g);
    
    
    const t=el('text',{x:box[0]-10,y:YL(l)+4,'font-size':9,'text-anchor':'end',fill:'#000'},g);
    
    
    t.textContent='10';
    const sp=el('text',{x:box[0]-10,y:YL(l)-1,'font-size':5.5,fill:'#000'},g);
    
    
    sp.textContent=l;
  });
  const fr=el('rect',{x:box[0],y:box[1],width:box[2]-box[0],height:box[3]-box[1],fill:'none',stroke:'#333','stroke-width':1.2},g);
  
  
  const fit=el('line',{x1:X(f3FitX[0]),y1:Y(f3FitY[0]),x2:X(f3FitX[1]),y2:Y(f3FitY[1]),stroke:'#444','stroke-width':0.8,'stroke-dasharray':'3,2'},g);
  
  
  let d='';
  f3ExpVals.forEach((v,i)=>{d+=(i?'L':'M')+X(f3ExpEdges[i])+','+Y(v)+'L'+X(f3ExpEdges[i+1])+','+Y(v);});
  const h=el('path',{d:d,fill:'none',stroke:'#111','stroke-width':1.6},g);
  
  
  f3McX.forEach((x,i)=>{
    const eb=el('path',{d:`M${X(x)},${Y(f3McErrLo[i])}L${X(x)},${Y(f3McErrHi[i])}M${X(x)-3},${Y(f3McErrLo[i])}L${X(x)+3},${Y(f3McErrLo[i])}M${X(x)-3},${Y(f3McErrHi[i])}L${X(x)+3},${Y(f3McErrHi[i])}`,stroke:'#777','stroke-width':0.8,fill:'none'},g);
    
    
    const c=el('circle',{cx:X(x),cy:Y(f3McY[i]),r:2.5,fill:'#000'},g);
    
    
  });
  const nb=el('rect',{x:3987,y:299,width:32,height:20,fill:'#fff',stroke:'#777','stroke-width':0.8},g);
  
  
  const nt=el('text',{x:3994,y:313,'font-size':8,fill:'#000'},g);
  
  
  nt.textContent='Ne';
  const ns=el('text',{x:4006,y:307,'font-size':5,fill:'#000'},g);
  
  
  ns.textContent='2.0';
  const ar=el('line',{x1:4014,y1:319,x2:4052,y2:331,stroke:'#444','stroke-width':0.8},g);
  
  
  const lb=el('rect',{x:4003,y:424,width:103,height:29,fill:'#fff',stroke:'#777','stroke-width':0.8},g);
  
  
  const ll=el('line',{x1:4012,y1:432,x2:4034,y2:432,stroke:'#111','stroke-width':1.6},g);
  
  
  const lt1=el('text',{x:4037,y:435,'font-size':8,fill:'#000'},g);
  
  
  lt1.textContent='experiment';
  const lc=el('circle',{cx:4023,cy:445,r:2,fill:'#000'},g);
  
  
  const lt2=el('text',{x:4037,y:448,'font-size':8,fill:'#000'},g);
  
  
  lt2.textContent='Monte-Carlo';
  const yt=el('text',{x:3828,y:393,'font-size':9,'text-anchor':'middle',fill:'#000',transform:'rotate(90 3828 393)'},g);
  
  
  yt.textContent='<n>';
  const xt=el('text',{x:3997,y:510,'font-size':9,'text-anchor':'middle',fill:'#000'},g);
  
  
  xt.textContent='LOG10(Ne)';
})();
</script>
</body>
</html>
